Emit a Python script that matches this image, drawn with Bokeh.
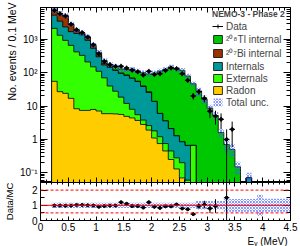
import numpy as np
from bokeh.plotting import figure
from bokeh.layouts import column
from bokeh.models import (Range1d, FixedTicker, LinearAxis, LogAxis, Legend,
                          LegendItem, Span, Title)
from bokeh.core.properties import value
from bokeh.embed import file_html
from bokeh.resources import INLINE

FONT = "Liberation Sans"

# ---------------- data ----------------
bin_edges = np.round(np.arange(0.2, 4.55, 0.1), 2)   # 0.2 ... 4.5 MeV, 43 bins

radon = [55, 27, 24, 17, 8.3, 7.4, 7.4, 7.9, 7.1, 5.9, 5.9, 5.8, 5.6, 4.9, 4.4,
         3.7, 2.8, 1.9, 1.1, 0.75, 0.45, 0.25, 0.13, 0.07, 0, 0, 0, 0, 0, 0,
         0, 0, 0, 0, 0, 0, 0, 0, 0, 0, 0, 0, 0]
externals = [2075, 1293, 906, 643, 412, 323, 203, 142, 103, 64, 34, 22, 12.9,
             7.1, 3.6, 1.8, 1.0, 0.7, 0.7, 0.45, 0.3, 0.2, 0.15, 0.13, 0.06,
             0.66, 0, 0, 0, 0, 0, 0, 0, 0, 0, 0, 0, 0, 0, 0, 0, 0, 0]
internals = [3170, 2180, 1420, 1040, 1080, 1020, 720, 390, 190, 100, 105, 89,
             77, 71, 60, 49, 35, 23, 12, 4.8, 2.85, 1.65, 1.0, 0.65, 0.6, 0,
             0, 0, 0, 0, 0, 0, 0, 0, 0, 0.07, 0, 0, 0, 0, 0, 0, 0]
bi207 = [2000, 2300, 2600, 1050, 280, 100, 150, 80, 40, 20, 5, 3, 2, 2, 1, 1,
         1, 1, 0, 0, 0, 0, 0, 0, 0, 0, 0, 0, 0, 0, 0, 0, 0, 0, 0, 0, 0, 0, 0,
         0, 0, 0, 0]
tl208 = [250, 200, 200, 150, 120, 110, 90, 80, 70, 40, 28, 35, 32, 40, 55, 56,
         60, 65, 84, 106, 121, 146, 125, 117, 79, 46, 28, 16, 8.5, 5.2, 1.6,
         0.7, 0.5, 0.15, 0, 0, 0, 0, 0, 0, 0, 0, 0]
total_unc_rel = [0.17] * 26 + [0.28] * 5 + [0.42] * 6 + [0.7] + [0.43] * 5

data_counts = [7400, 5880, 5000, 2840, 1940, 1590, 1170, 686, 370, 218, 174,
               155, 156, 138, 119, 106, 85, 110, 88, 93, 116, 138, 132, 93, 59,
               20, 27, 17, 7, 5, 4, 1, 2]
ratio_vals = [0.98, 0.98, 0.97, 0.98, 1.02, 1.02, 1.0, 0.98, 0.9, 0.95, 0.98,
              0.98, 1.2, 1.1, 0.95, 0.95, 0.85, 1.2, 0.9, 0.83, 0.93, 0.93,
              1.05, 0.79, 0.74, 0.42, 0.95, 1.05, 0.79, 0.95, np.nan, 1.5, np.nan]
ratio_errs = [0.01, 0.01, 0.01, 0.02, 0.02, 0.03, 0.03, 0.04, 0.05, 0.07, 0.07,
              0.08, 0.1, 0.09, 0.09, 0.09, 0.09, 0.11, 0.1, 0.09, 0.09, 0.08,
              0.09, 0.08, 0.1, 0.1, 0.18, 0.25, 0.3, 0.45, np.nan, 1.5, np.nan]

x_major = [0, 0.5, 1, 1.5, 2, 2.5, 3, 3.5, 4, 4.5]
x_major_labels = ["0", "0.5", "1", "1.5", "2", "2.5", "3", "3.5", "4", "4.5"]
y_major = [0.1, 1, 10, 100, 1000]
y_major_labels = ["10\u207b\u00b9", "1", "10", "10\u00b2", "10\u00b3"]
ratio_major = [0, 1, 2]
ratio_labels = ["0", "1", "2"]

layer_names = ["Radon", "Externals", "Internals", "\u00b2\u2070\u2077Bi internal",
               "\u00b2\u2070\u2078Tl internal"]
layer_values = [radon, externals, internals, bi207, tl208]
layer_colors = ["#ffcc00", "#33ff00", "#009999", "#993300", "#00c800"]
UNC_COLOR = "#3f5bff"

X_MIN, X_MAX = 0, 4.5
Y_MIN, Y_MAX = 0.051, 9000
R_MIN, R_MAX = 0, 2.5

# ---------------- helpers ----------------
FLOOR = 1e-3
lo = bin_edges[:-1]
hi = bin_edges[1:]


def step_polygon(edges, vals):
    v = np.maximum(np.asarray(vals, float), FLOOR)
    xs, ys = [edges[0]], [FLOOR]
    for i in range(len(v)):
        xs += [edges[i], edges[i + 1]]
        ys += [v[i], v[i]]
    xs.append(edges[-1])
    ys.append(FLOOR)
    return xs, ys


def style_axis(ax, ticks, labels, major_in, minor_in, size="10px", standoff=3):
    ax.major_tick_in = major_in
    ax.major_tick_out = 0
    ax.minor_tick_in = minor_in
    ax.minor_tick_out = 0
    ax.axis_line_color = "black"
    ax.major_tick_line_color = "black"
    ax.minor_tick_line_color = "black"
    ax.major_label_text_font = FONT
    ax.major_label_text_color = "black"
    if labels is not None:
        ax.major_label_overrides = dict(zip(ticks, labels))
        ax.major_label_text_font_size = size
        ax.major_label_standoff = standoff
    else:
        ax.major_label_overrides = {t: "" for t in ticks}
        ax.major_label_text_font_size = "1px"
        ax.major_label_text_alpha = 0
        ax.major_label_standoff = 0


x_minor = [round(0.1 * k, 1) for k in range(46)]
y_minor = [m * 10.0 ** e for e in range(-2, 4) for m in range(2, 10)]
ratio_minor = [0.5, 1.5, 2.5]

xr = Range1d(X_MIN, X_MAX)
xt = FixedTicker(ticks=x_major, minor_ticks=x_minor)
yt = FixedTicker(ticks=y_major, minor_ticks=y_minor)
rt = FixedTicker(ticks=ratio_major, minor_ticks=ratio_minor)

# ---------------- main panel ----------------
p = figure(width=300, height=182, x_range=xr, y_range=Range1d(Y_MIN, Y_MAX),
           y_axis_type="log", output_backend="svg", toolbar_location=None,
           min_border_left=39, min_border_right=10, min_border_top=7,
           min_border_bottom=0)
p.xgrid.visible = False
p.ygrid.visible = False
p.outline_line_color = "black"
p.background_fill_color = "white"

p.xaxis[0].ticker = xt
p.xaxis[0].fixed_location = Y_MIN
style_axis(p.xaxis[0], x_major, None, 5, 3)
p.yaxis[0].ticker = yt
style_axis(p.yaxis[0], y_major, y_major_labels, 7, 4)
top_ax = LinearAxis(ticker=xt, fixed_location=Y_MAX)
style_axis(top_ax, x_major, None, 5, 3)
p.add_layout(top_ax, "above")
right_ax = LogAxis(ticker=yt, fixed_location=X_MAX)
style_axis(right_ax, y_major, None, 7, 4)
p.add_layout(right_ax, "right")

cum = np.cumsum(np.array(layer_values, float), axis=0)
patches = {}
for k in range(len(layer_values) - 1, -1, -1):
    xs, ys = step_polygon(bin_edges, cum[k])
    patches[k] = p.patch(xs, ys, fill_color=layer_colors[k], line_color="black",
                         line_width=0.8)

total = cum[-1]
mask = total > 0
unc = np.array(total_unc_rel)
r_unc = p.quad(left=lo[mask], right=hi[mask], bottom=(total * (1 - unc))[mask],
               top=(total * (1 + unc))[mask], fill_alpha=0, line_alpha=0,
               hatch_pattern="x", hatch_color=UNC_COLOR, hatch_scale=3,
               hatch_weight=0.8, hatch_alpha=0.8)

nd = len(data_counts)
d = np.array(data_counts, float)
derr = np.sqrt(d)
dlo, dhi = lo[:nd], hi[:nd]
dc = (dlo + dhi) / 2
r_h = p.segment(x0=dlo, x1=dhi, y0=d, y1=d, line_color="black", line_width=1)
p.segment(x0=dc, x1=dc, y0=np.maximum(d - derr, FLOOR), y1=d + derr,
          line_color="black", line_width=1)
p.scatter(dc, d, marker="circle", size=3, color="black")
r_cross = p.scatter(dc, d, marker="cross", size=5, line_color="black",
                    line_width=1)

items = [LegendItem(label=value("Data"), renderers=[r_h, r_cross])]
for k in range(len(layer_values) - 1, -1, -1):
    items.append(LegendItem(label=value(layer_names[k]), renderers=[patches[k]]))
items.append(LegendItem(label=value("Total unc."), renderers=[r_unc]))
legend = Legend(items=items, location="top_right", title="NEMO-3 - Phase 2",
                title_text_font=FONT, title_text_font_style="bold",
                title_text_font_size="8.5px", title_standoff=1,
                label_text_font=FONT, label_text_font_size="10px",
                glyph_width=11, glyph_height=10, label_height=12,
                label_width=62, spacing=0, padding=2, margin=0,
                label_standoff=3, background_fill_alpha=0,
                border_line_alpha=0)
p.add_layout(legend)

p.add_layout(Title(text="No. events / 0.1 MeV", align="right", offset=-5,
                   standoff=0, text_font=FONT, text_font_size="10.5px",
                   text_font_style="normal", text_color="black"), "left")

# ---------------- ratio panel ----------------
r = figure(width=300, height=64, x_range=xr, y_range=Range1d(R_MIN, R_MAX),
           output_backend="svg", toolbar_location=None, min_border_left=39,
           min_border_right=10, min_border_top=0, min_border_bottom=26)
r.xgrid.visible = False
r.ygrid.visible = False
r.outline_line_color = "black"
r.xaxis[0].ticker = xt
style_axis(r.xaxis[0], x_major, x_major_labels, 4, 2, standoff=2)
r.yaxis[0].ticker = rt
style_axis(r.yaxis[0], ratio_major, ratio_labels, 7, 4)
r.yaxis[0].axis_label = "Data/MC"
r.yaxis[0].axis_label_text_font = FONT
r.yaxis[0].axis_label_text_font_size = "9.5px"
r.yaxis[0].axis_label_text_font_style = "normal"
r.yaxis[0].axis_label_text_color = "black"
r.yaxis[0].axis_label_standoff = 14
rtop = LinearAxis(ticker=xt, fixed_location=R_MAX)
style_axis(rtop, x_major, None, 4, 2)
r.add_layout(rtop, "above")
rright = LinearAxis(ticker=rt, fixed_location=X_MAX)
style_axis(rright, ratio_major, None, 7, 4)
r.add_layout(rright, "right")

r.quad(left=lo, right=hi, bottom=1 - unc, top=1 + unc, fill_alpha=0,
       line_alpha=0, hatch_pattern="x", hatch_color=UNC_COLOR, hatch_scale=3,
       hatch_weight=0.8, hatch_alpha=0.8)
r.add_layout(Span(location=1, dimension="width", line_color="red", line_width=1))
for lv in (0.5, 2):
    r.add_layout(Span(location=lv, dimension="width", line_color="red",
                      line_width=1, line_dash="3 2"))

rv = np.array(ratio_vals, float)
re = np.array(ratio_errs, float)
ok = ~np.isnan(rv)
r.segment(x0=dlo[ok], x1=dhi[ok], y0=rv[ok], y1=rv[ok], line_color="black",
          line_width=1)
r.segment(x0=dc[ok], x1=dc[ok], y0=np.maximum(rv - re, 0)[ok],
          y1=(rv + re)[ok], line_color="black", line_width=1)
r.scatter(dc[ok], rv[ok], marker="circle", size=3, color="black")

r.add_layout(Title(text="E\u1d67 (MeV)", align="right", offset=3, standoff=0,
                   text_font=FONT, text_font_size="10px",
                   text_font_style="normal", text_color="black"), "below")

layout = column(p, r, spacing=0)
open("out.html", "w").write(file_html(layout, INLINE))
